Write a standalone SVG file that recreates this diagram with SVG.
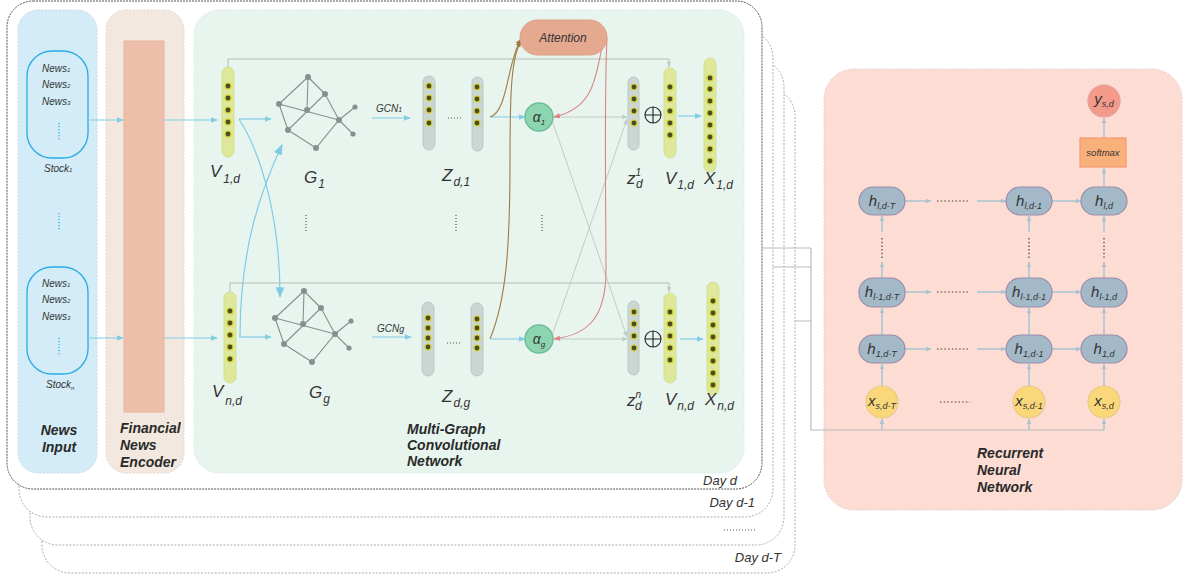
<svg xmlns="http://www.w3.org/2000/svg" xmlns:xlink="http://www.w3.org/1999/xlink" width="1190" height="579" viewBox="0 0 1190 579">
<style>
text{font-family:"Liberation Sans",Arial,sans-serif;fill:#333}
.it{font-style:italic}
.bi{font-style:italic;font-weight:bold;font-size:14px;fill:#2a2a2a}
.news{font-style:italic;font-size:10px;fill:#333}
.lbl{font-style:italic;font-size:17px;fill:#333}
.sub{font-size:12px}
.hl{font-style:italic;font-size:15px;fill:#333}
.hs{font-size:9px}
.frame{fill:#fff;stroke:#aaa;stroke-width:1;stroke-dasharray:2,1.5}
.blue{fill:none;stroke:#80cce6;stroke-width:1.2}
.gray{fill:none;stroke:#c2cbc6;stroke-width:1}
.dk{fill:none;stroke:#b5bcb8;stroke-width:1}
.dots{fill:none;stroke:#555;stroke-width:1.2;stroke-dasharray:1,2}
.bdots{fill:none;stroke:#29abe2;stroke-width:1.2;stroke-dasharray:1.2,1.8}
.rnn{fill:none;stroke:#a9c4d0;stroke-width:1.5}
.rdots{fill:none;stroke:#444;stroke-width:1.2;stroke-dasharray:1.5,2.2}
.dot{fill:#4b4b2b;stroke:#d4d42a;stroke-width:1.2}
.vbar{fill:#dde89a;stroke:#d4e090;stroke-width:1}
.zbar{fill:#ccd6d2;stroke:#bcc8c3;stroke-width:1}
.hnode{fill:#a3b9c8;stroke:#9c8cab;stroke-width:1.2}
.xnode{fill:#fad87a;stroke:#e8c98a;stroke-width:1.2}
.gedge{fill:none;stroke:#8a8f8d;stroke-width:1.1}
.gnode{fill:#8a8f8d}
</style>
<defs>
<marker id="ab" viewBox="0 0 10 10" refX="9" refY="5" markerWidth="5.5" markerHeight="5.5" orient="auto"><path d="M0,1 L10,5 L0,9 z" fill="#80cce6"/></marker>
<marker id="abL" viewBox="0 0 10 10" refX="9" refY="5" markerWidth="9" markerHeight="9" orient="auto"><path d="M0,1 L10,5 L0,9 z" fill="#80cce6"/></marker>
<marker id="ag" viewBox="0 0 10 10" refX="9" refY="5" markerWidth="6" markerHeight="6" orient="auto"><path d="M0,1 L10,5 L0,9 z" fill="#c2cbc6"/></marker>
<marker id="abr" viewBox="0 0 10 10" refX="9" refY="5" markerWidth="6" markerHeight="6" orient="auto"><path d="M0,1 L10,5 L0,9 z" fill="#a07a45"/></marker>
<marker id="ar" viewBox="0 0 10 10" refX="9" refY="5" markerWidth="6" markerHeight="6" orient="auto"><path d="M0,1 L10,5 L0,9 z" fill="#d98585"/></marker>
<marker id="arn" viewBox="0 0 10 10" refX="9" refY="5" markerWidth="4" markerHeight="4" orient="auto"><path d="M0,1 L10,5 L0,9 z" fill="#a9c4d0"/></marker>
<g id="graph">
<path class="gedge" d="M308,77 L325,94 M308,77 L279,104 M308,77 L307,110 M325,94 L288,130 M279,104 L339,120 M325,94 L339,120 M279,104 L288,130 M288,130 L316,148 L339,120 L355,107 M339,120 L353,134"/>
<circle class="gnode" cx="308" cy="77" r="3"/><circle class="gnode" cx="325" cy="94" r="3"/><circle class="gnode" cx="279" cy="104" r="3"/><circle class="gnode" cx="307" cy="110" r="3"/><circle class="gnode" cx="355" cy="107" r="2.6"/><circle class="gnode" cx="339" cy="120" r="3"/><circle class="gnode" cx="288" cy="130" r="3"/><circle class="gnode" cx="353" cy="134" r="2.6"/><circle class="gnode" cx="316" cy="148" r="3"/>
</g>
</defs>
<rect width="1190" height="579" fill="#fff"/>

<g id="day-frames">
<rect class="frame" x="42" y="88" width="753" height="485" rx="28"/>
<rect class="frame" x="30" y="59" width="754" height="486" rx="28"/>
<rect class="frame" x="19" y="30" width="754" height="487" rx="28"/>
<rect x="7" y="1" width="755" height="488" rx="26" fill="#fff" stroke="#555" stroke-width="1" stroke-dasharray="2,1"/>
<text class="it" x="737" y="485" font-size="13" text-anchor="end">Day d</text>
<text class="it" x="755" y="507" font-size="13" text-anchor="end">Day d-1</text>
<path class="dots" d="M724,530 H757" stroke-dasharray="1,2" stroke-width="1"/>
<text class="it" x="781" y="562" font-size="13" text-anchor="end">Day d-T</text>
</g>

<g id="news-input">
<rect x="18" y="10" width="79" height="463" rx="20" fill="#d4ecf7" stroke="#c6dbe6" stroke-dasharray="2,1.5"/>
<rect x="27" y="51" width="61" height="107" rx="25" fill="#d4ecf7" stroke="#29abe2" stroke-width="1.3"/>
<text class="news" x="42" y="72">News<tspan font-size="6">1</tspan></text>
<text class="news" x="42" y="88">News<tspan font-size="6">2</tspan></text>
<text class="news" x="42" y="105">News<tspan font-size="6">3</tspan></text>
<path class="bdots" d="M59,123 V141"/>
<text class="news" x="44" y="172">Stock<tspan font-size="6">1</tspan></text>
<path class="bdots" d="M59,213 V231"/>
<rect x="27" y="267" width="61" height="107" rx="25" fill="#d4ecf7" stroke="#29abe2" stroke-width="1.3"/>
<text class="news" x="42" y="287">News<tspan font-size="6">1</tspan></text>
<text class="news" x="42" y="303">News<tspan font-size="6">2</tspan></text>
<text class="news" x="42" y="320">News<tspan font-size="6">3</tspan></text>
<path class="bdots" d="M59,338 V356"/>
<text class="news" x="46" y="388">Stock<tspan font-size="6" dy="2">n</tspan></text>
<text class="bi" x="59" y="435" text-anchor="middle">News</text>
<text class="bi" x="59" y="452" text-anchor="middle">Input</text>
</g>

<g id="news-encoder">
<rect x="106" y="10" width="78" height="463" rx="20" fill="#f2e8df" stroke="#e2d6cc" stroke-dasharray="2,1.5"/>
<rect x="124" y="41" width="40" height="371" fill="#edbfaa" stroke="#e8b49c"/>
<text class="bi" x="120" y="433">Financial</text>
<text class="bi" x="120" y="450">News</text>
<text class="bi" x="120" y="467">Encoder</text>
</g>

<g id="mgcn-panel">
<rect x="194" y="10" width="550" height="463" rx="25" fill="#e8f5ee" stroke="#d9ebe0" stroke-dasharray="2,1.5"/>
<text class="bi" x="407" y="434">Multi-Graph</text>
<text class="bi" x="407" y="450">Convolutional</text>
<text class="bi" x="407" y="466">Network</text>
</g>

<g id="rnn-panel">
<rect x="824" y="69" width="358" height="441" rx="30" fill="#fcdcd3" stroke="#e6d2cc" stroke-dasharray="2,1.5"/>
<text class="bi" x="977" y="458">Recurrent</text>
<text class="bi" x="977" y="475">Neural</text>
<text class="bi" x="977" y="492">Network</text>
</g>

<g id="connectors">
<path class="blue" d="M88,120 H123" marker-end="url(#ab)"/>
<path class="blue" d="M88,338 H123" marker-end="url(#ab)"/>
<path class="blue" d="M164,120 H217" marker-end="url(#ab)"/>
<path class="blue" d="M164,338 H217" marker-end="url(#ab)"/>
<path class="blue" d="M239,119 H271" marker-end="url(#ab)"/>
<path class="blue" d="M239,337 H271" marker-end="url(#ab)"/>
<path class="blue" d="M239,119 C264,158 280,225 280,297" marker-end="url(#abL)"/>
<path class="blue" d="M240,337 C240,250 260,192 282,145" marker-end="url(#abL)"/>
<path class="blue" d="M372,118 H410" marker-end="url(#ab)"/>
<path class="blue" d="M372,337 H411" marker-end="url(#ab)"/>
<path class="blue" d="M491,117 H525" marker-end="url(#ab)"/>
<path class="blue" d="M491,339 H525" marker-end="url(#ab)"/>
<path class="blue" d="M678,116 H701" marker-end="url(#ab)"/>
<path class="blue" d="M680,339 H703" marker-end="url(#ab)"/>
<path class="dk" d="M228,67 V59 H669 V67" marker-end="url(#ag)"/>
<path class="dk" d="M230,292 V283 H669 V292" marker-end="url(#ag)"/>
<path class="gray" d="M553,117 H627" marker-end="url(#ag)"/>
<path class="gray" d="M553,339 H627" marker-end="url(#ag)"/>
<path class="gray" d="M553,123 L627,337" marker-end="url(#ag)"/>
<path class="gray" d="M553,333 L627,119" marker-end="url(#ag)"/>
<path d="M490,117 C508,112 507,62 521,39" fill="none" stroke="#a07a45" stroke-width="1.1" marker-end="url(#abr)"/>
<path d="M490,339 C506,300 510,250 510,160 C510,95 511,58 521,41" fill="none" stroke="#a07a45" stroke-width="1.1" marker-end="url(#abr)"/>
<path d="M606,36 C594,62 603,106 554,117" fill="none" stroke="#d98585" stroke-width="1.1" marker-end="url(#ar)"/>
<path d="M607,38 C604,100 606,220 606,270 C606,320 586,335 554,339" fill="none" stroke="#d98585" stroke-width="1.1" marker-end="url(#ar)"/>
<path fill="none" stroke="#bbb" stroke-width="1.2" d="M761,248 H811 M773,267 H811 M795,321 H811 M811,248 V430 H1104"/>
<path class="rnn" stroke-width="1.2" d="M882,430 V419" marker-end="url(#arn)"/>
<path class="rnn" stroke-width="1.2" d="M1029,430 V419" marker-end="url(#arn)"/>
<path class="rnn" stroke-width="1.2" d="M1104,430 V419" marker-end="url(#arn)"/>
<path class="rnn" d="M905,201 H931" marker-end="url(#arn)"/>
<path class="rnn" d="M977,201 H1006" marker-end="url(#arn)"/>
<path class="rnn" d="M1052,201 H1081" marker-end="url(#arn)"/>
<path class="rnn" d="M905,292 H931" marker-end="url(#arn)"/>
<path class="rnn" d="M977,292 H1006" marker-end="url(#arn)"/>
<path class="rnn" d="M1052,292 H1081" marker-end="url(#arn)"/>
<path class="rnn" d="M905,349 H931" marker-end="url(#arn)"/>
<path class="rnn" d="M977,349 H1006" marker-end="url(#arn)"/>
<path class="rnn" d="M1052,349 H1081" marker-end="url(#arn)"/>
<path class="rdots" d="M937,201 H970 M937,292 H970 M937,349 H970 M940,402 H970"/>
<path class="rnn" d="M882,386 V364" marker-end="url(#arn)"/>
<path class="rnn" d="M1029,386 V364" marker-end="url(#arn)"/>
<path class="rnn" d="M1104,386 V364" marker-end="url(#arn)"/>
<path class="rnn" d="M882,335 V308" marker-end="url(#arn)"/>
<path class="rnn" d="M1029,335 V308" marker-end="url(#arn)"/>
<path class="rnn" d="M1104,335 V308" marker-end="url(#arn)"/>
<path class="rnn" d="M882,278 V262" marker-end="url(#arn)"/>
<path class="rnn" d="M1029,278 V262" marker-end="url(#arn)"/>
<path class="rnn" d="M1104,278 V262" marker-end="url(#arn)"/>
<path class="rdots" d="M882,238 V258 M1029,238 V258 M1104,238 V258"/>
<path class="rnn" d="M882,232 V216" marker-end="url(#arn)"/>
<path class="rnn" d="M1029,232 V216" marker-end="url(#arn)"/>
<path class="rnn" d="M1104,232 V216" marker-end="url(#arn)"/>
<path class="rnn" d="M1104,187 V168" marker-end="url(#arn)"/>
<path class="rnn" d="M1104,138 V118" marker-end="url(#arn)"/>
</g>

<g id="v1d-in">
<rect class="vbar" x="222" y="67" width="12" height="90" rx="6"/>
<circle class="dot" cx="228" cy="86" r="3"/><circle class="dot" cx="228" cy="98" r="3"/><circle class="dot" cx="228" cy="110" r="3"/><circle class="dot" cx="228" cy="122" r="3"/><circle class="dot" cx="228" cy="134" r="3"/>
<text class="lbl" x="210" y="177">V<tspan class="sub" dx="2" dy="6">1,d</tspan></text>
</g>
<g id="vnd-in">
<rect class="vbar" x="224" y="292" width="12" height="91" rx="6"/>
<circle class="dot" cx="230" cy="311" r="3"/><circle class="dot" cx="230" cy="323" r="3"/><circle class="dot" cx="230" cy="335" r="3"/><circle class="dot" cx="230" cy="347" r="3"/><circle class="dot" cx="230" cy="359" r="3"/>
<text class="lbl" x="212" y="397">V<tspan class="sub" dx="2" dy="8">n,d</tspan></text>
</g>

<g id="g1">
<use xlink:href="#graph"/>
<text class="lbl" x="304" y="183">G<tspan class="sub" dx="1" dy="5">1</tspan></text>
</g>
<path class="dots" d="M306,215 V233"/>
<g id="gg">
<use xlink:href="#graph" transform="translate(-4,214)"/>
<text class="lbl" x="309" y="398">G<tspan class="sub" dx="1" dy="5">g</tspan></text>
</g>

<g id="gcn1-label"><text class="it" x="376" y="112" font-size="10">GCN<tspan font-size="7">1</tspan></text></g>
<g id="gcng-label"><text class="it" x="377" y="332" font-size="10">GCN<tspan font-size="9">g</tspan></text></g>

<g id="zd1">
<rect class="zbar" x="423" y="76" width="12" height="74" rx="6"/>
<circle class="dot" cx="429" cy="86" r="3"/><circle class="dot" cx="429" cy="98" r="3"/><circle class="dot" cx="429" cy="110" r="3"/><circle class="dot" cx="429" cy="123" r="3"/>
<path class="dots" d="M448,118 H462" stroke-width="1" stroke="#888"/>
<rect class="zbar" x="472" y="77" width="11" height="74" rx="5.5"/>
<circle class="dot" cx="477" cy="87" r="3"/><circle class="dot" cx="477" cy="99" r="3"/><circle class="dot" cx="477" cy="111" r="3"/><circle class="dot" cx="477" cy="123" r="3"/>
<text class="lbl" x="442" y="181">Z<tspan class="sub" dx="1" dy="5">d,1</tspan></text>
</g>
<path class="dots" d="M456,215 V233"/>
<g id="zdg">
<rect class="zbar" x="422" y="302" width="12" height="74" rx="6"/>
<circle class="dot" cx="428" cy="318" r="3"/><circle class="dot" cx="428" cy="328" r="3"/><circle class="dot" cx="428" cy="338" r="3"/><circle class="dot" cx="428" cy="347" r="3"/>
<path class="dots" d="M447,343 H461" stroke-width="1" stroke="#888"/>
<rect class="zbar" x="471" y="303" width="12" height="73" rx="6"/>
<circle class="dot" cx="477" cy="319" r="3"/><circle class="dot" cx="477" cy="328" r="3"/><circle class="dot" cx="477" cy="338" r="3"/><circle class="dot" cx="477" cy="348" r="3"/>
<text class="lbl" x="442" y="402">Z<tspan class="sub" dx="1" dy="5">d,g</tspan></text>
</g>

<g id="attention">
<rect x="520" y="20" width="87" height="35" rx="17.5" fill="#e4a98f" stroke="#dc9e85"/>
<text class="it" x="563" y="42" font-size="12" text-anchor="middle">Attention</text>
</g>
<g id="alpha1">
<circle cx="539" cy="117" r="14" fill="#8dd5b0" stroke="#6dbf98" stroke-width="1.5"/>
<text class="it" x="539" y="122" font-size="14" text-anchor="middle">α<tspan font-size="8" dy="3">1</tspan></text>
</g>
<path class="dots" d="M542,215 V233"/>
<g id="alphag">
<circle cx="539" cy="339" r="14" fill="#8dd5b0" stroke="#6dbf98" stroke-width="1.5"/>
<text class="it" x="539" y="344" font-size="14" text-anchor="middle">α<tspan font-size="8" dy="3">g</tspan></text>
</g>

<g id="z1d">
<rect class="zbar" x="628" y="77" width="11" height="73" rx="5.5"/>
<circle class="dot" cx="634" cy="87" r="3"/><circle class="dot" cx="634" cy="99" r="3"/><circle class="dot" cx="634" cy="111" r="3"/><circle class="dot" cx="634" cy="123" r="3"/>
<text class="lbl" x="627" y="184" font-size="19">z<tspan font-size="10" dy="-8">1</tspan><tspan class="sub" dx="-5" dy="12">d</tspan></text>
</g>
<g id="znd">
<rect class="zbar" x="628" y="301" width="11" height="74" rx="5.5"/>
<circle class="dot" cx="634" cy="312" r="3"/><circle class="dot" cx="634" cy="324" r="3"/><circle class="dot" cx="634" cy="336" r="3"/><circle class="dot" cx="634" cy="348" r="3"/>
<text class="lbl" x="627" y="406" font-size="19">z<tspan font-size="10" dy="-8">n</tspan><tspan class="sub" dx="-6" dy="12">d</tspan></text>
</g>
<g id="plus1">
<circle cx="653" cy="115" r="8" fill="none" stroke="#222" stroke-width="1.1"/>
<path d="M645,115 H661 M653,107 V123" stroke="#222" stroke-width="1.1"/>
</g>
<g id="plusn">
<circle cx="653" cy="339" r="8" fill="none" stroke="#222" stroke-width="1.1"/>
<path d="M645,339 H661 M653,331 V347" stroke="#222" stroke-width="1.1"/>
</g>
<g id="v1d-out">
<rect class="vbar" x="664" y="68" width="12" height="90" rx="6"/>
<circle class="dot" cx="670" cy="87" r="3"/><circle class="dot" cx="670" cy="99" r="3"/><circle class="dot" cx="670" cy="111" r="3"/><circle class="dot" cx="670" cy="123" r="3"/><circle class="dot" cx="670" cy="135" r="3"/>
<text class="lbl" x="665" y="184">V<tspan class="sub" dx="1" dy="5">1,d</tspan></text>
</g>
<g id="vnd-out">
<rect class="vbar" x="664" y="293" width="12" height="90" rx="6"/>
<circle class="dot" cx="670" cy="312" r="3"/><circle class="dot" cx="670" cy="324" r="3"/><circle class="dot" cx="670" cy="336" r="3"/><circle class="dot" cx="670" cy="348" r="3"/><circle class="dot" cx="670" cy="360" r="3"/>
<text class="lbl" x="665" y="405">V<tspan class="sub" dx="1" dy="5">n,d</tspan></text>
</g>
<g id="x1d">
<rect class="vbar" x="704" y="58" width="12" height="114" rx="6"/>
<circle class="dot" cx="710" cy="78" r="3"/><circle class="dot" cx="710" cy="89" r="3"/><circle class="dot" cx="710" cy="101" r="3"/><circle class="dot" cx="710" cy="113" r="3"/><circle class="dot" cx="710" cy="125" r="3"/><circle class="dot" cx="710" cy="137" r="3"/><circle class="dot" cx="710" cy="149" r="3"/><circle class="dot" cx="710" cy="161" r="3"/>
<text class="lbl" x="704" y="184">X<tspan class="sub" dx="1" dy="5">1,d</tspan></text>
</g>
<g id="xnd">
<rect class="vbar" x="707" y="282" width="12" height="113" rx="6"/>
<circle class="dot" cx="713" cy="301" r="3"/><circle class="dot" cx="713" cy="313" r="3"/><circle class="dot" cx="713" cy="325" r="3"/><circle class="dot" cx="713" cy="337" r="3"/><circle class="dot" cx="713" cy="349" r="3"/><circle class="dot" cx="713" cy="361" r="3"/><circle class="dot" cx="713" cy="373" r="3"/><circle class="dot" cx="713" cy="385" r="3"/>
<text class="lbl" x="705" y="405">X<tspan class="sub" dx="1" dy="5">n,d</tspan></text>
</g>

<g id="y-sd">
<circle cx="1104" cy="101" r="16" fill="#f39a8a" stroke="#e3a599" stroke-width="1.2"/>
<text class="hl" x="1104" y="104" text-anchor="middle">y<tspan class="hs" dy="3">s,d</tspan></text>
</g>
<g id="softmax">
<rect x="1080" y="138" width="46" height="29" fill="#f9b07a" stroke="#f39a72" stroke-width="1.2"/>
<text class="it" x="1103" y="156" font-size="9.5" text-anchor="middle">softmax</text>
</g>
<g id="h-l-dT"><rect class="hnode" x="859" y="187" width="46" height="28" rx="14"/><text class="hl" x="882" y="206" text-anchor="middle">h<tspan class="hs" dy="3">l,d-T</tspan></text></g>
<g id="h-l-d1"><rect class="hnode" x="1006" y="187" width="46" height="28" rx="14"/><text class="hl" x="1029" y="206" text-anchor="middle">h<tspan class="hs" dy="3">l,d-1</tspan></text></g>
<g id="h-l-d"><rect class="hnode" x="1081" y="187" width="46" height="28" rx="14"/><text class="hl" x="1104" y="206" text-anchor="middle">h<tspan class="hs" dy="3">l,d</tspan></text></g>
<g id="h-l1-dT"><rect class="hnode" x="859" y="278" width="46" height="29" rx="14"/><text class="hl" x="882" y="297" text-anchor="middle">h<tspan class="hs" dy="3">l-1,d-T</tspan></text></g>
<g id="h-l1-d1"><rect class="hnode" x="1006" y="278" width="46" height="29" rx="14"/><text class="hl" x="1029" y="297" text-anchor="middle">h<tspan class="hs" dy="3">l-1,d-1</tspan></text></g>
<g id="h-l1-d"><rect class="hnode" x="1081" y="278" width="46" height="29" rx="14"/><text class="hl" x="1104" y="297" text-anchor="middle">h<tspan class="hs" dy="3">l-1,d</tspan></text></g>
<g id="h-1-dT"><rect class="hnode" x="859" y="335" width="46" height="28" rx="14"/><text class="hl" x="882" y="354" text-anchor="middle">h<tspan class="hs" dy="3">1,d-T</tspan></text></g>
<g id="h-1-d1"><rect class="hnode" x="1006" y="335" width="46" height="28" rx="14"/><text class="hl" x="1029" y="354" text-anchor="middle">h<tspan class="hs" dy="3">1,d-1</tspan></text></g>
<g id="h-1-d"><rect class="hnode" x="1081" y="335" width="46" height="28" rx="14"/><text class="hl" x="1104" y="354" text-anchor="middle">h<tspan class="hs" dy="3">1,d</tspan></text></g>
<g id="x-sdT"><circle class="xnode" cx="882" cy="402" r="16"/><text class="hl" x="882" y="406" text-anchor="middle">x<tspan class="hs" dy="3">s,d-T</tspan></text></g>
<g id="x-sd1"><circle class="xnode" cx="1029" cy="402" r="16"/><text class="hl" x="1029" y="406" text-anchor="middle">x<tspan class="hs" dy="3">s,d-1</tspan></text></g>
<g id="x-sd"><circle class="xnode" cx="1104" cy="402" r="16"/><text class="hl" x="1104" y="406" text-anchor="middle">x<tspan class="hs" dy="3">s,d</tspan></text></g>
</svg>
